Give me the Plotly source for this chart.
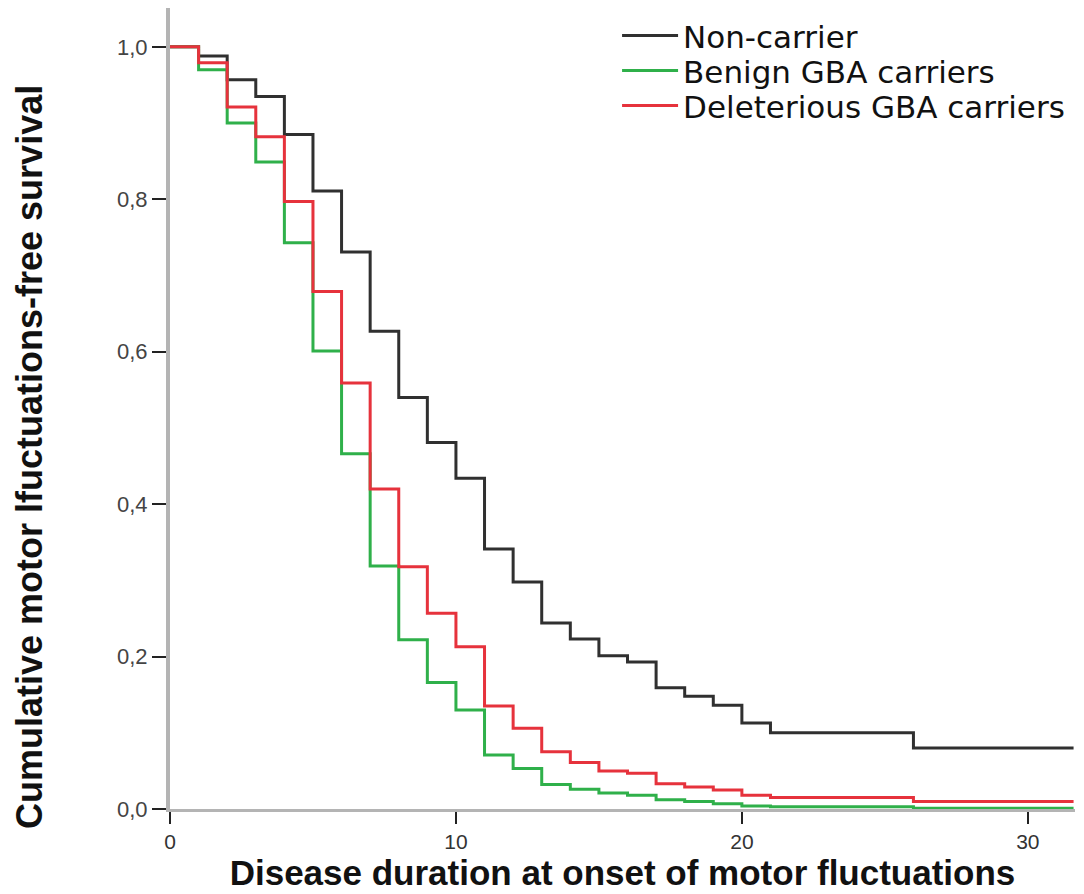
import plotly.graph_objects as go

# ---- data ----
event_times = [0, 1, 2, 3, 4, 5, 6, 7, 8, 9, 10, 11, 12, 13, 14, 15, 16, 17, 18, 19, 20, 21, 26]
followup_end = 31.6

noncarrier = [1.0, 0.988, 0.957, 0.935, 0.885, 0.811, 0.731, 0.627, 0.540, 0.481, 0.434, 0.341,
              0.298, 0.244, 0.223, 0.201, 0.193, 0.159, 0.148, 0.136, 0.113, 0.100, 0.080]
benign = [1.0, 0.970, 0.900, 0.849, 0.743, 0.601, 0.466, 0.319, 0.222, 0.166, 0.130, 0.071,
          0.053, 0.032, 0.026, 0.021, 0.018, 0.012, 0.010, 0.007, 0.004, 0.003, 0.001]
deleterious = [1.0, 0.979, 0.921, 0.882, 0.797, 0.679, 0.559, 0.420, 0.318, 0.257, 0.213, 0.135,
               0.106, 0.075, 0.061, 0.050, 0.047, 0.033, 0.029, 0.025, 0.018, 0.015, 0.010]

series_names = ["Non-carrier", "Benign GBA carriers", "Deleterious GBA carriers"]
series_values = [noncarrier, benign, deleterious]
series_colors = ["#303030", "#2fb04a", "#e6323c"]

x_tickvals = [0, 10, 20, 30]
x_ticktext = ["0", "10", "20", "30"]
y_tickvals = [0.0, 0.2, 0.4, 0.6, 0.8, 1.0]
y_ticktext = ["0,0", "0,2", "0,4", "0,6", "0,8", "1,0"]

x_title = "Disease duration at onset of motor fluctuations"
y_title = "Cumulative motor lfuctuations-free survival"

# ---- figure ----
fig = go.Figure()
xs = event_times + [followup_end]
legend_ids = ["legend", "legend2", "legend3"]
for name, vals, col, lid in zip(series_names, series_values, series_colors, legend_ids):
    fig.add_trace(go.Scatter(
        x=xs, y=vals + [vals[-1]], mode="lines", name=name, legend=lid,
        line=dict(shape="hv", color=col, width=3),
    ))

legend_font = dict(family="DejaVu Sans, sans-serif", size=31, color="#111111")
legend_common = dict(x=0.494, xanchor="left", yanchor="top", font=legend_font,
                     bgcolor="rgba(0,0,0,0)", borderwidth=0, itemwidth=56)
row_step = 35 / 801.0

fig.update_layout(
    width=1084, height=894,
    margin=dict(l=162, r=17, t=0, b=93, autoexpand=False),
    paper_bgcolor="white", plot_bgcolor="white",
    font=dict(family="Liberation Sans, Arial, sans-serif", color="#222222"),
    showlegend=True,
    legend=dict(y=0.999, **legend_common),
    legend2=dict(y=0.999 - row_step, **legend_common),
    legend3=dict(y=0.999 - 2 * row_step, **legend_common),
    annotations=[dict(
        text="<b>" + y_title + "</b>", textangle=-90,
        xref="paper", yref="paper", x=0, y=0.4395,
        xanchor="center", yanchor="middle", xshift=-140, showarrow=False,
        font=dict(family="Liberation Sans, Arial", size=36, color="#111111"),
    )],
)

fig.update_xaxes(
    range=[0, 31.65], showgrid=False, zeroline=False,
    showline=True, linecolor="#b4b4b4", linewidth=3,
    ticks="outside", ticklen=12, tickwidth=2, tickcolor="#222222",
    tickvals=x_tickvals, ticktext=x_ticktext,
    tickfont=dict(family="Liberation Sans, Arial", size=21, color="#333333"),
    title=dict(text="<b>" + x_title + "</b>",
               font=dict(family="Liberation Sans, Arial", size=35, color="#111111"),
               standoff=9),
)
fig.update_yaxes(
    range=[0, 1.051], showgrid=False, zeroline=False,
    showline=True, linecolor="#b4b4b4", linewidth=4,
    ticks="outside", ticklen=14, tickwidth=2, tickcolor="#222222",
    tickvals=y_tickvals, ticktext=y_ticktext,
    tickfont=dict(family="Liberation Sans, Arial", size=22, color="#444444"),
)

fig.write_html("out.html")
